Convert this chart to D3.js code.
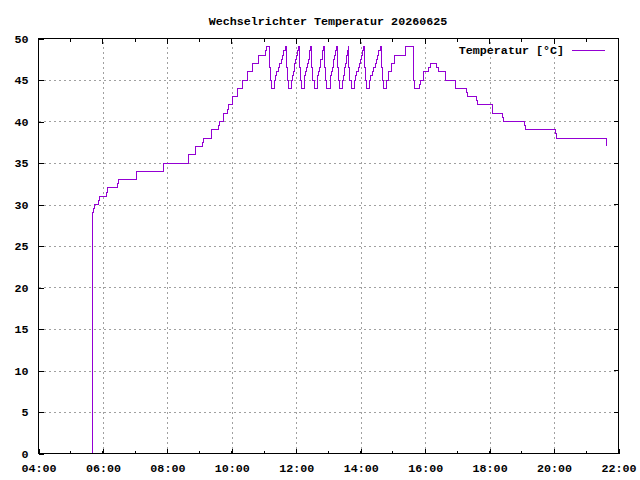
<!DOCTYPE html>
<html>
<head>
<meta charset="utf-8">
<script src="https://cdn.jsdelivr.net/npm/d3@7"></script>
<style>
  body { margin: 0; background: #fff; }
  text { font-family: "Liberation Mono", "DejaVu Sans Mono", monospace; font-weight: bold; font-size: 11.7px; fill: #000; }
</style>
</head>
<body>
<div id="chart"></div>
<script>
// chart texts
const title = "Wechselrichter Temperatur 20260625";
const seriesName = "Temperatur [°C]";

// x range and tick values
const xRange = ["04:00", "22:00"];
const yRange = [0, 50];
const yTicks = [0, 5, 10, 15, 20, 25, 30, 35, 40, 45, 50];

const times = [
  "05:40","05:41","05:43","05:45","05:52","05:54","06:07","06:09","06:27","06:29",
  "07:03","07:53","08:39","08:53","09:05","09:07","09:22","09:36","09:37","09:45",
  "09:52","09:54","10:01","10:11","10:20","10:29","10:38","10:50","11:03","11:04",
  "11:11","11:12","11:14",
  "11:19","11:22","11:24","11:27","11:29","11:32","11:35","11:37","11:40","11:42","11:44","11:46",
  "11:51","11:53","11:54","11:56","11:57","11:59","12:01","12:02","12:04","12:06","12:08","12:10",
  "12:15","12:16","12:18","12:19","12:21","12:22","12:24","12:25","12:27","12:29","12:31","12:34",
  "12:39","12:40","12:42","12:43","12:45","12:46","12:48","12:49","12:51","12:53","12:55","12:57",
  "13:03","13:04","13:06","13:07","13:09","13:10","13:12","13:13","13:15","13:16","13:18","13:20",
  "13:26","13:27","13:29","13:30","13:31","13:33","13:34","13:36","13:37","13:38","13:40","13:43",
  "13:49","13:51","13:53","13:55","13:57","13:59","14:01","14:03","14:05","14:07","14:09","14:11",
  "14:17","14:19","14:22","14:24","14:27","14:29","14:32","14:34","14:37","14:38","14:40","14:42",
  "14:48","14:52","14:57","15:02","15:24","15:38","15:39","15:41","15:49","15:51","15:56","16:07",
  "16:10","16:22","16:24","16:37","16:57","17:17","17:19","17:36","17:37","18:05","18:06","18:24",
  "18:25","19:05","19:06","20:03","20:05","21:37"
];
const temps = [
  0, 29, 29.5, 30, 30.5, 31, 31.5, 32, 32.5, 33,
  34, 35, 36, 37, 37.5, 38, 39, 39.5, 40, 41,
  41.5, 42, 43, 44, 45, 46, 47, 48, 48.5, 49,
  46.5, 45, 44,
  45, 45.5, 46, 46.5, 47, 47.5, 48, 48.5, 49, 46.5, 45, 44,
  45, 45.5, 46, 46.5, 47, 47.5, 48, 48.5, 49, 46.5, 45, 44,
  45, 45.5, 46, 46.5, 47, 47.5, 48, 48.5, 49, 46.5, 45, 44,
  45, 45.5, 46, 46.5, 47, 47.5, 48, 48.5, 49, 46.5, 45, 44,
  45, 45.5, 46, 46.5, 47, 47.5, 48, 48.5, 49, 46.5, 45, 44,
  45, 45.5, 46, 46.5, 47, 47.5, 48, 48.5, 49, 46.5, 45, 44,
  45, 45.5, 46, 46.5, 47, 47.5, 48, 48.5, 49, 46.5, 45, 44,
  45, 45.5, 46, 46.5, 47, 47.5, 48, 48.5, 49, 46.5, 45, 44,
  45, 46, 47, 48, 49, 46.5, 45, 44, 44.5, 45, 46, 46.5,
  47, 46.5, 46, 45, 44, 43.5, 43, 42.5, 42, 41.5, 41, 40.5,
  40, 39.5, 39, 38.5, 38, 37
];

const width = 640, height = 480;
const margin = {left: 38.5, right: 21.5, top: 38.5, bottom: 26.5};
const lineColor = "#9400d3";

const parseTime = d3.timeParse("%H:%M");
const data = times.map((t, i) => ({t: parseTime(t), v: temps[i]}));

let svg = d3.select("#chart").append("svg")
  .attr("width", width)
  .attr("height", height);

svg.append("rect").attr("width", width).attr("height", height).attr("fill", "#fff");

let x = d3.scaleTime()
  .domain(xRange.map(parseTime))
  .range([margin.left, width - margin.right]);
let y = d3.scaleLinear()
  .domain(yRange)
  .range([height - margin.bottom, margin.top]);

const majorX = x.ticks(d3.timeHour.every(2));
const minorX = x.ticks(d3.timeHour.every(1));

// grid
let grid = svg.append("g")
  .attr("stroke", "#a0a0a0")
  .attr("stroke-width", 1)
  .attr("stroke-dasharray", "2,3")
  .attr("shape-rendering", "crispEdges");
grid.selectAll(".gx")
  .data(majorX.slice(1, -1))
  .enter().append("line")
  .attr("x1", d => Math.round(x(d)) + 0.5).attr("x2", d => Math.round(x(d)) + 0.5)
  .attr("y1", y(0)).attr("y2", y(50));
grid.selectAll(".gy")
  .data(yTicks.slice(1, -1))
  .enter().append("line")
  .attr("x1", x.range()[0]).attr("x2", x.range()[1])
  .attr("y1", d => Math.round(y(d)) + 0.5).attr("y2", d => Math.round(y(d)) + 0.5);

// data line (gnuplot "steps")
let line = d3.line()
  .x(d => x(d.t))
  .y(d => y(d.v))
  .curve(d3.curveStepAfter);

svg.append("path")
  .datum(data)
  .attr("fill", "none")
  .attr("stroke", lineColor)
  .attr("stroke-width", 1)
  .attr("shape-rendering", "crispEdges")
  .attr("d", line);

// axes: ticks inward, mirrored
const major = 5, minor = 3;
let axisBottom = d3.axisBottom(x).tickValues(majorX).tickFormat(d3.timeFormat("%H:%M"))
  .tickSizeInner(-major).tickSizeOuter(0).tickPadding(10);
let axisLeft = d3.axisLeft(y).tickValues(yTicks)
  .tickSizeInner(-major).tickSizeOuter(0).tickPadding(10);

let gx = svg.append("g")
  .attr("transform", `translate(0,${y(0)})`)
  .call(axisBottom);
let gy = svg.append("g")
  .attr("transform", `translate(${x.range()[0]},0)`)
  .call(axisLeft);
[gx, gy].forEach(g => {
  g.select(".domain").remove();
  g.selectAll("line").attr("stroke", "#000").attr("shape-rendering", "crispEdges");
  g.selectAll("text").attr("font-family", null).attr("font-size", null).attr("fill", "#000");
});
gx.selectAll("text").attr("dy", "0.71em").attr("y", 10);

let ticks = svg.append("g").attr("stroke", "#000").attr("shape-rendering", "crispEdges");
// top mirrored major ticks
ticks.selectAll(".tt").data(majorX).enter().append("line")
  .attr("x1", d => x(d)).attr("x2", d => x(d))
  .attr("y1", y(50)).attr("y2", y(50) + major);
// minor ticks bottom and top
ticks.selectAll(".mb").data(minorX).enter().append("line")
  .attr("x1", d => x(d)).attr("x2", d => x(d))
  .attr("y1", y(0)).attr("y2", y(0) - minor);
ticks.selectAll(".mt").data(minorX).enter().append("line")
  .attr("x1", d => x(d)).attr("x2", d => x(d))
  .attr("y1", y(50)).attr("y2", y(50) + minor);
// right mirrored ticks
ticks.selectAll(".rt").data(yTicks).enter().append("line")
  .attr("x1", x.range()[1]).attr("x2", x.range()[1] - major)
  .attr("y1", d => y(d)).attr("y2", d => y(d));

// border
svg.append("rect")
  .attr("x", x.range()[0]).attr("y", y(50))
  .attr("width", x.range()[1] - x.range()[0])
  .attr("height", y(0) - y(50))
  .attr("fill", "none")
  .attr("stroke", "#000")
  .attr("shape-rendering", "crispEdges");

// title
svg.append("text")
  .attr("x", 328).attr("y", 25)
  .attr("text-anchor", "middle")
  .text(title);

// key
svg.append("text")
  .attr("x", 564).attr("y", 54)
  .attr("text-anchor", "end")
  .text(seriesName);
svg.append("line")
  .attr("x1", 572).attr("x2", 605)
  .attr("y1", 50.5).attr("y2", 50.5)
  .attr("stroke", lineColor)
  .attr("stroke-width", 1)
  .attr("shape-rendering", "crispEdges");
</script>
</body>
</html>
